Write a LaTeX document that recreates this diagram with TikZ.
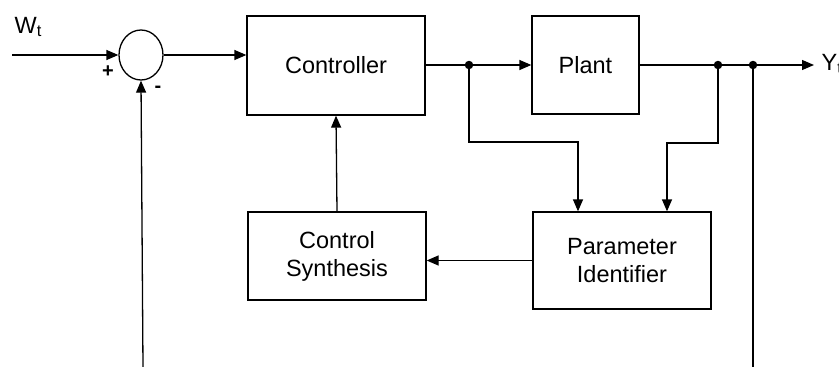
\documentclass[tikz,border=0pt]{standalone}
\usepackage{fontspec}
\setmainfont{Liberation Sans}
\usetikzlibrary{arrows.meta,shapes.geometric}
\begin{document}
\begin{tikzpicture}[x=1pt,y=-1pt,
  line width=1.3pt,
  font=\fontsize{23.5}{28}\selectfont,
  blk/.style={draw,rectangle,inner sep=0pt,align=center},
  arr/.style={-{Triangle[length=12pt,width=10pt]}},
  dotnode/.style={circle,fill,inner sep=0pt,minimum size=8.5pt}]
\useasboundingbox (0,0) rectangle (839,367);
\node[draw,ellipse,minimum width=44pt,minimum height=50pt,inner sep=0pt] (sum) at (141,55) {};
\node[blk,minimum width=178pt,minimum height=99pt] (ctrl) at (336,65.5) {Controller};
\node[blk,minimum width=107pt,minimum height=98pt] (plant) at (585.5,65) {Plant};
\node[blk,minimum width=178pt,minimum height=88pt] (cs) at (337,256) {Control\\Synthesis};
\node[blk,minimum width=178pt,minimum height=97pt] (pi) at (622,260.5) {Parameter\\Identifier};
\node[dotnode] (d1) at (469,65) {};
\node[dotnode] (d2) at (718,65) {};
\node[dotnode] (d3) at (753,65) {};
\coordinate (win) at (12,55);
\coordinate (yout) at (814,65);
\coordinate (fbl) at (143,367);
\coordinate (fbr) at (753,367);
\node[anchor=base west,inner sep=0pt] (wt) at (14,33) {W\textsubscript{t}};
\node[anchor=base west,inner sep=0pt] (yt) at (821,70) {Y\textsubscript{t}};
\node[inner sep=0pt,font=\fontsize{20}{24}\bfseries] (plus) at (108,72) {+};
\node[inner sep=0pt,font=\fontsize{20}{24}\bfseries] (minus) at (158,89) {-};
\draw[arr] (win) -- (sum.west);
\draw[arr] (sum.east) -- (sum.east -| ctrl.west);
\draw (ctrl.east |- d1) -- (d1.center);
\draw[arr] (d1.center) -- (plant.west |- d1);
\draw (plant.east |- d2) -- (d2.center) -- (d3.center);
\draw[arr] (d3.center) -- (yout);
\draw[arr] (d1.center) -- (469,142) -- (578,142) -- (pi.north -| 578,0);
\draw[arr] (d2.center) -- (718,143) -- (667,143) -- (pi.north -| 667,0);
\draw (d3.center) -- (fbr);
\draw[arr] (fbl) -- (sum.south);
\draw[arr] (cs.north) -- (ctrl.south);
\draw[arr] (pi.west) -- (cs.east |- pi.west);
\end{tikzpicture}
\end{document}
